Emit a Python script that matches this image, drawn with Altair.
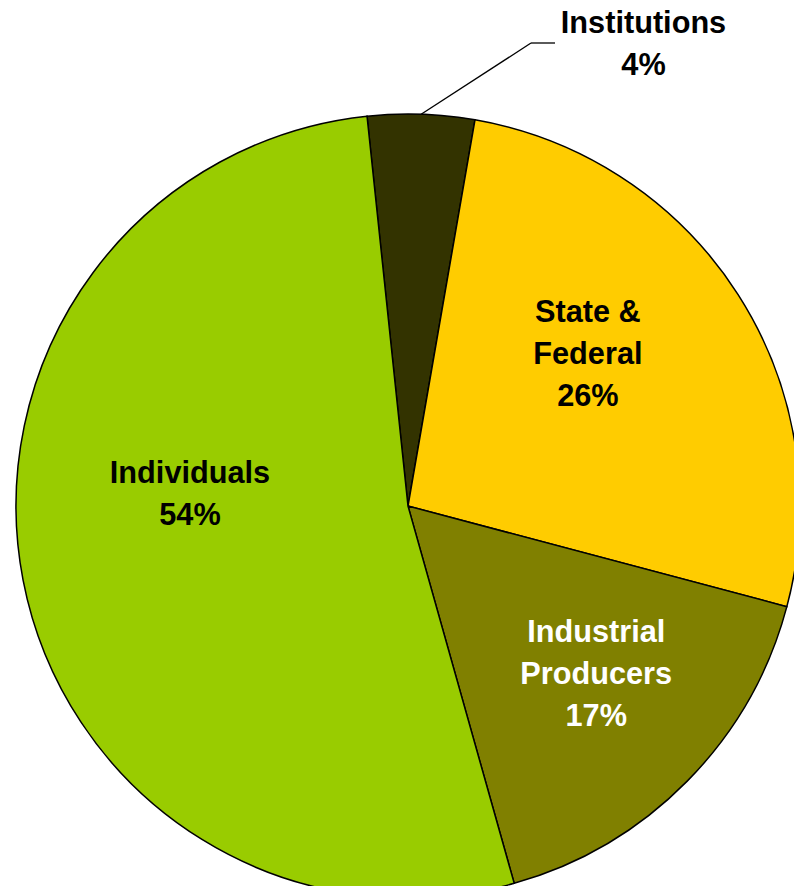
import math
import altair as alt
import pandas as pd

# ---- data ----
categories = ["Institutions", "State & Federal", "Industrial Producers", "Individuals"]
shares = [4.4, 26.4, 16.5, 52.7]          # share of the pie
pct_labels = ["4%", "26%", "17%", "54%"]   # percentages printed on the chart
name_lines = [["Institutions"], ["State &", "Federal"], ["Industrial", "Producers"], ["Individuals"]]
colors = ["#333300", "#FFCC00", "#808000", "#99CC00"]

# ---- layout / style ----
W, H = 786, 878
CX, CY = 400, 498
R = 392
START = math.radians(-6.0)
TOTAL = sum(shares)
FONT = "Liberation Sans"
LH = 42

df = pd.DataFrame({
    "cat": categories,
    "share": shares,
    "order": list(range(len(categories))),
    "label": ["\n".join(n + [p]) for n, p in zip(name_lines, pct_labels)],
})

theta = alt.Theta("share:Q", stack=True,
                  scale=alt.Scale(domain=[0, TOTAL], range=[START, START + 2 * math.pi], nice=False, zero=True))
base = alt.Chart(df).encode(theta=theta, order=alt.Order("order:Q", sort="ascending"))

pie = base.mark_arc(x=CX, y=CY, outerRadius=R, stroke="black", strokeWidth=1.5).encode(
    color=alt.Color("cat:N", scale=alt.Scale(domain=categories, range=colors), legend=None)
)


def label_layer(cat, nlines, r, dx, dy, color):
    return base.transform_calculate(
        t=f"datum.cat == '{cat}' ? datum.label : ''"
    ).mark_text(
        x=CX, y=CY, radius=r, dx=dx, dy=dy - (nlines - 1) * LH / 2, font=FONT, fontWeight="bold",
        fontSize=30.7, lineBreak="\n", lineHeight=LH, color=color, align="center", baseline="middle",
    ).encode(text="t:N")


labels = [
    label_layer("Institutions", 2, 463, 220, 2, "black"),
    label_layer("State & Federal", 3, 235, -18, -24, "black"),
    label_layer("Industrial Producers", 3, 253, 8, -9, "white"),
    label_layer("Individuals", 2, 222, 0, -53, "black"),
]

# leader line for the Institutions label (starts at the slice's mid-angle on the rim)
mid = START + shares[0] / TOTAL * math.pi
sx, sy = CX + R * math.sin(mid), CY - R * math.cos(mid)
one = alt.Chart(pd.DataFrame({"k": [0]}))
leader1 = one.mark_rule(color="black", strokeWidth=1.3).encode(
    x=alt.value(sx), y=alt.value(sy), x2=alt.value(523), y2=alt.value(35))
leader2 = one.mark_rule(color="black", strokeWidth=1.3).encode(
    x=alt.value(523), y=alt.value(35), x2=alt.value(547), y2=alt.value(35))

chart = alt.layer(pie, leader1, leader2, *labels).properties(
    width=W, height=H, padding=0, autosize=alt.AutoSizeParams(type="none")
).configure_view(stroke=None)

chart.save("out.html", embed_options={"renderer": "svg", "actions": False})
